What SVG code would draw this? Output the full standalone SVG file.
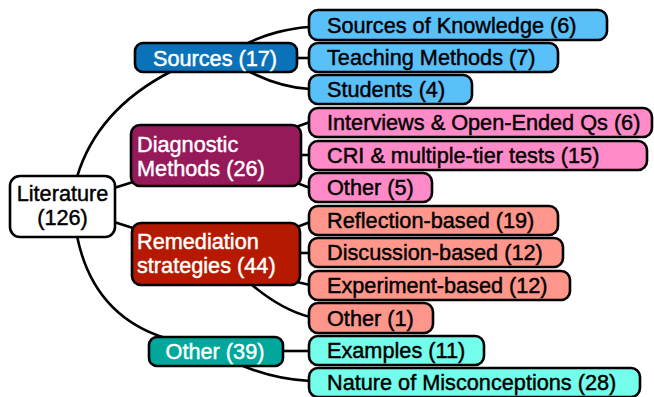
<svg xmlns="http://www.w3.org/2000/svg" width="654" height="397" viewBox="0 0 654 397">
<style>
.n{stroke:#000;stroke-width:2.6}
.c{fill:none;stroke:#000;stroke-width:2.6}
text{font-family:"Liberation Sans",Arial,sans-serif;font-size:21.7px;stroke-width:0.45px}
.w{fill:#fff;stroke:#fff}
.k{fill:#000;stroke:#000}
.m{text-anchor:middle}
.sb{fill:#5AC0FA}
.pk{fill:#FF8AC8}
.sa{fill:#FF968C}
.tl{fill:#73FDEA}
</style>
<rect width="654" height="397" fill="#fff"/>
<g id="connectors">
<path class="c" d="M77,177 Q97,110 170,72"/>
<path class="c" d="M77,236 Q93,315 165,338"/>
<path class="c" d="M114,188 L133,182"/>
<path class="c" d="M114,222 L133,228"/>
<path class="c" d="M246,44 C265,34 290,28 310,27"/>
<path class="c" d="M296,58 L310,58"/>
<path class="c" d="M250,72 C270,82 290,88 310,89"/>
<path class="c" d="M296,127 L310,122"/>
<path class="c" d="M300,155 L310,155"/>
<path class="c" d="M297,183 L310,188"/>
<path class="c" d="M297,227 L310,222"/>
<path class="c" d="M300,253 L310,253"/>
<path class="c" d="M297,282 L310,285"/>
<path class="c" d="M252,285 C270,300 290,312 310,317"/>
<path class="c" d="M282,351 L310,351"/>
<path class="c" d="M243,366 C265,375 290,380 310,381"/>
</g>
<g id="literature">
<rect class="n" x="10" y="176" width="105" height="61" rx="10" fill="#fff"/>
<text class="k m" x="62.5" y="201">Literature</text>
<text class="k m" x="62.5" y="225">(126)</text>
</g>
<g id="sources">
<rect class="n" x="135" y="43" width="162" height="29" rx="8" fill="#0A72B8"/>
<text class="w m" x="215" y="65.5">Sources (17)</text>
</g>
<g id="diagnostic">
<rect class="n" x="131" y="125" width="170" height="61" rx="9" fill="#96195A"/>
<text class="w" x="137" y="152">Diagnostic</text>
<text class="w" x="137" y="176">Methods (26)</text>
</g>
<g id="remediation">
<rect class="n" x="132" y="223" width="168" height="62" rx="9" fill="#B51A00"/>
<text class="w" x="137" y="249">Remediation</text>
<text class="w" x="137" y="273">strategies (44)</text>
</g>
<g id="other39">
<rect class="n" x="149" y="337" width="134" height="29" rx="8" fill="#00A89C"/>
<text class="w m" x="215" y="359">Other (39)</text>
</g>
<g id="sources-of-knowledge">
<rect class="n sb" x="309" y="10" width="298" height="30" rx="9"/>
<text class="k" x="327" y="32.5">Sources of Knowledge (6)</text>
</g>
<g id="teaching-methods">
<rect class="n sb" x="309" y="43" width="249" height="29" rx="9"/>
<text class="k" x="327" y="65">Teaching Methods (7)</text>
</g>
<g id="students">
<rect class="n sb" x="309" y="75" width="163" height="29" rx="9"/>
<text class="k" x="327" y="97">Students (4)</text>
</g>
<g id="interviews">
<rect class="n pk" x="309" y="108" width="343" height="29" rx="9"/>
<text class="k" x="327" y="130">Interviews &amp; Open-Ended Qs (6)</text>
</g>
<g id="cri">
<rect class="n pk" x="309" y="141" width="338" height="29" rx="9"/>
<text class="k" x="327" y="163">CRI &amp; multiple-tier tests (15)</text>
</g>
<g id="other5">
<rect class="n pk" x="309" y="173" width="123" height="29" rx="9"/>
<text class="k" x="327" y="195">Other (5)</text>
</g>
<g id="reflection">
<rect class="n sa" x="309" y="206" width="249" height="29" rx="9"/>
<text class="k" x="327" y="228">Reflection-based (19)</text>
</g>
<g id="discussion">
<rect class="n sa" x="309" y="238" width="254" height="29" rx="9"/>
<text class="k" x="327" y="260">Discussion-based (12)</text>
</g>
<g id="experiment">
<rect class="n sa" x="309" y="271" width="261" height="29" rx="9"/>
<text class="k" x="327" y="293">Experiment-based (12)</text>
</g>
<g id="other1">
<rect class="n sa" x="309" y="303" width="124" height="30" rx="9"/>
<text class="k" x="327" y="325.5">Other (1)</text>
</g>
<g id="examples">
<rect class="n tl" x="309" y="336" width="175" height="29" rx="9"/>
<text class="k" x="327" y="358">Examples (11)</text>
</g>
<g id="nature">
<rect class="n tl" x="309" y="368" width="331" height="29" rx="9"/>
<text class="k" x="327" y="390">Nature of Misconceptions (28)</text>
</g>
</svg>
